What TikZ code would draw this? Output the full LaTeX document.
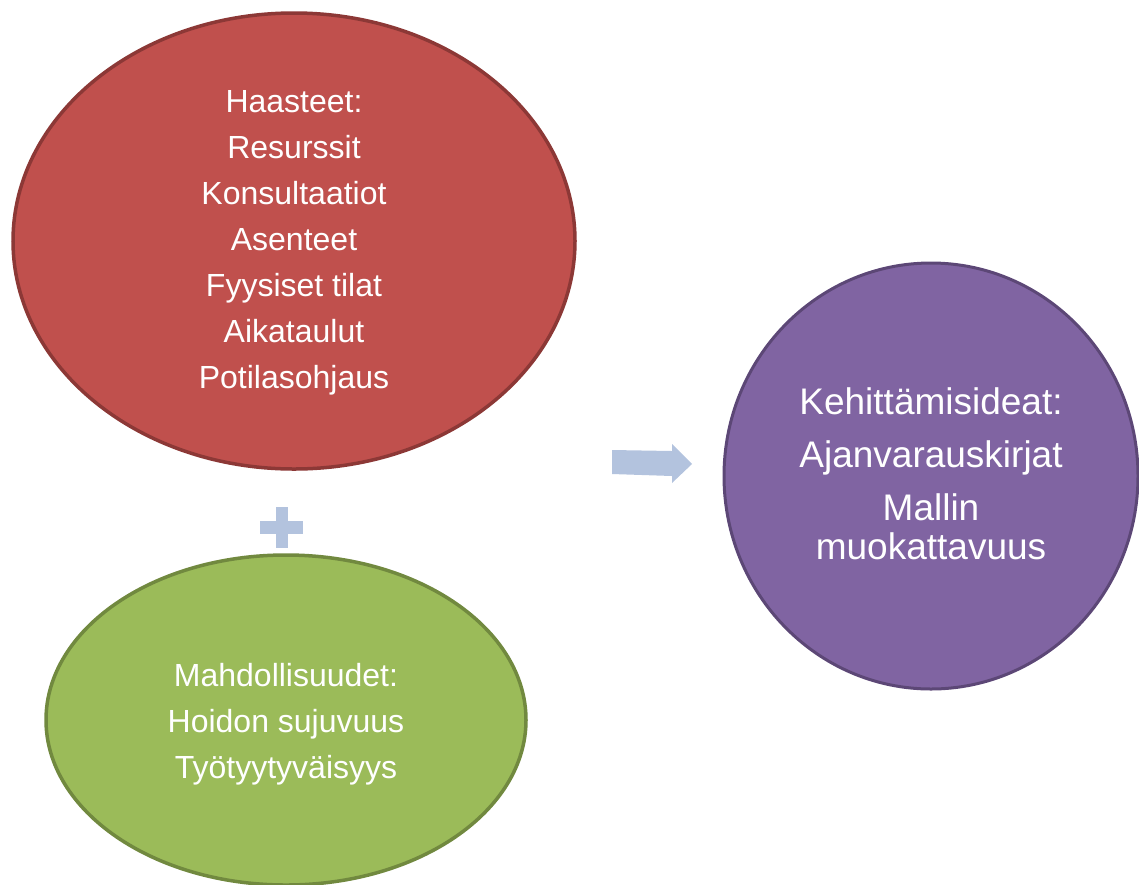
\documentclass[tikz,border=0pt]{standalone}
\usepackage{fontspec}
\setmainfont{Liberation Sans}
\usetikzlibrary{shapes.geometric}
\definecolor{redfill}{HTML}{C0504D}
\definecolor{redline}{HTML}{8C3836}
\definecolor{greenfill}{HTML}{9BBB59}
\definecolor{greenline}{HTML}{71893F}
\definecolor{purplefill}{HTML}{8064A2}
\definecolor{purpleline}{HTML}{5C4776}
\definecolor{signfill}{HTML}{B3C3DE}
\tikzset{
  x=1pt, y=-1pt,
  blob/.style={ellipse, inner sep=0pt, line width=3.5pt},
  blobtext/.style={text=white, align=center, inner sep=0pt},
  sign/.style={fill=signfill, draw=none},
}
\begin{document}
\begin{tikzpicture}
\useasboundingbox (0,0) rectangle (1139,884);
% three ellipses
\node[blob, fill=redfill, draw=redline, minimum width=562pt, minimum height=456pt] (challenges) at (294,241) {};
\node[blob, fill=greenfill, draw=greenline, minimum width=480pt, minimum height=330pt] (chances) at (286,720) {};
\node[blob, fill=purplefill, draw=purpleline, line width=3pt, minimum width=414pt, minimum height=426pt] (ideas) at (931,476) {};
% texts
\node[blobtext, font=\fontsize{32}{46}\selectfont] (challengestext) at (294,243) {Haasteet:\\Resurssit\\Konsultaatiot\\Asenteet\\Fyysiset tilat\\Aikataulut\\Potilasohjaus};
\node[blobtext, font=\fontsize{32}{46}\selectfont] (chancestext) at (286,724) {Mahdollisuudet:\\Hoidon sujuvuus\\Työtyytyväisyys};
\node[blobtext, font=\fontsize{37}{39}\selectfont] (ideastext) at (931,474) {Kehittämisideat:\\[14pt]Ajanvarauskirjat\\[14pt]Mallin\\muokattavuus};
% plus sign
\fill[sign] (276,507) rectangle (288,548);
\fill[sign] (260,521) rectangle (303,534);
% block arrow
\fill[sign] (612,450) -- (672,451) -- (672,444) -- (692,464) -- (672,483) -- (672,476) -- (612,474) -- cycle;
\end{tikzpicture}
\end{document}
